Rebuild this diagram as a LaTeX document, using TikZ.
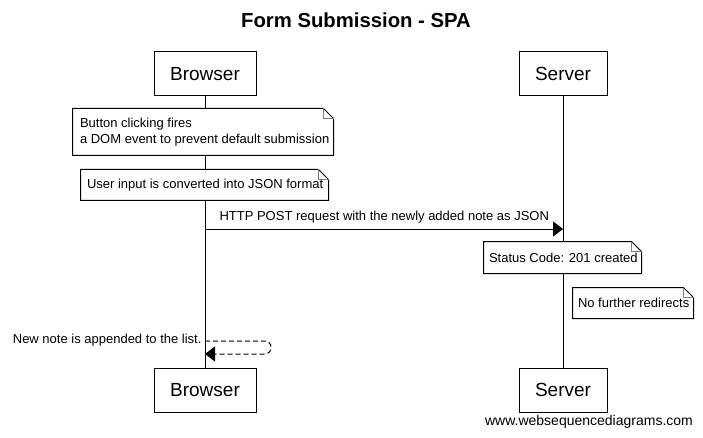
\documentclass[tikz,border=0pt]{standalone}
\usepackage{fontspec}
\setmainfont{Liberation Sans}
\usetikzlibrary{arrows.meta}
\begin{document}
\begin{tikzpicture}[x=1pt,y=-1pt,line width=1pt,
  actor/.style={draw,minimum height=44pt,inner sep=0pt,font=\fontsize{19}{22}\selectfont},
  notebox/.style={minimum height=#1,inner sep=0pt},
  notetext/.style={anchor=west,inner sep=0pt,align=left,font=\fontsize{13}{16}\selectfont},
  msg/.style={font=\fontsize{13}{16}\selectfont},
  tip/.style={-{Triangle[length=10pt,width=15pt]}}]
\useasboundingbox (0,0) rectangle (703,438);
\fill[white] (0,0) rectangle (703,438);
\node[font=\bfseries\fontsize{20.3}{24}\selectfont] (title) at (356,20) {Form Submission - SPA};
\node[actor,minimum width=102pt] (bt) at (205,74) {Browser};
\node[actor,minimum width=88pt] (st) at (563,74) {Server};
\node[actor,minimum width=102pt] (bb) at (205,390) {Browser};
\node[actor,minimum width=88pt] (sb) at (563,390) {Server};
\draw (bt.south) -- (bb.north);
\draw (st.south) -- (sb.north);
% notes
\newcommand{\foldnote}[1]{%
  \draw[fill=white] (#1.south west) -- (#1.south east) -- ([yshift=-10pt]#1.north east) -- ([xshift=-10pt]#1.north east) -- (#1.north west) -- cycle;
  \draw[gray] ([xshift=-10pt]#1.north east) -- ([xshift=-10pt,yshift=-10pt]#1.north east) -- ([yshift=-10pt]#1.north east);}
\node[notebox=46pt,minimum width=260pt] (n1) at (203,132) {};
\foldnote{n1}
\node[notetext] (n1t) at ([xshift=7pt]n1.west) {Button clicking fires\\a DOM event to prevent default submission};
\node[notebox=30pt,minimum width=247pt] (n2) at (204.5,185) {};
\foldnote{n2}
\node[notetext] (n2t) at ([xshift=6pt]n2.west) {User input is converted into JSON format};
\coordinate (a1) at (205,229);
\coordinate (a2) at (563,229);
\draw[tip] (a1) -- (a2);
\node[msg,anchor=south west,inner sep=0pt] (l1) at (219,224) {HTTP POST request with the newly added note as JSON};
\node[notebox=31pt,minimum width=157pt] (n3) at (562.5,257.5) {};
\foldnote{n3}
\node[notetext] (n3t) at ([xshift=5pt]n3.west) {Status Code: 201 created};
\node[notebox=30pt,minimum width=120pt] (n4) at (633,303) {};
\foldnote{n4}
\node[notetext] (n4t) at ([xshift=5pt]n4.west) {No further redirects};
\coordinate (s1) at (205,341);
\coordinate (s2) at (205,354);
\draw[tip,dash pattern=on 5pt off 3pt,rounded corners=6pt] (s1) -- (271,341) -- (271,354) -- (s2);
\node[msg,anchor=east,inner sep=0pt] (l2) at (202,340) {New note is appended to the list.};
\node[font=\fontsize{14}{17}\selectfont] (web) at (589,422) {www.websequencediagrams.com};
\end{tikzpicture}
\end{document}
